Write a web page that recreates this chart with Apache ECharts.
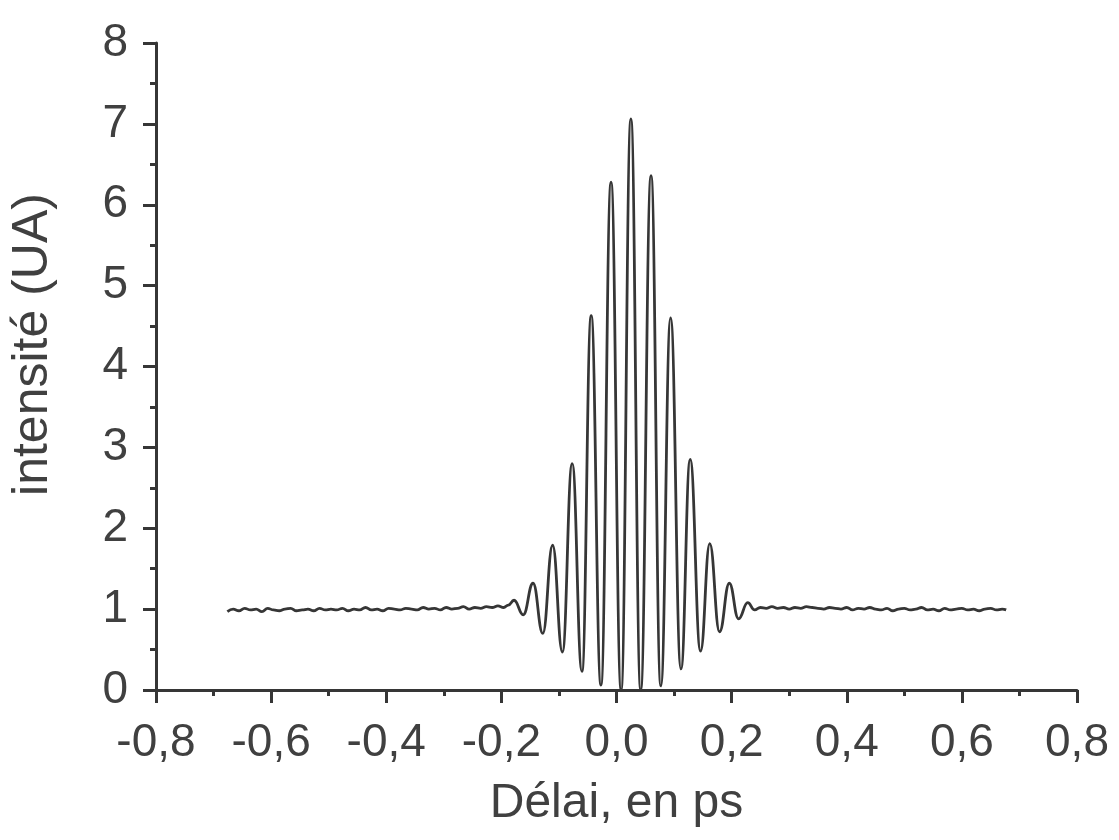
<!DOCTYPE html>
<html>
<head>
<meta charset="utf-8">
<script src="https://cdn.jsdelivr.net/npm/echarts@6/dist/echarts.min.js"></script>
<style>
  html, body { margin: 0; padding: 0; background: #fff; }
  #chart { width: 1119px; height: 840px; }
</style>
</head>
<body>
<div id="chart"></div>
<script>
// ---- Data (delay in ps, intensity in arbitrary units) ----
const delayLeft = [-0.676, -0.666, -0.656, -0.646, -0.636, -0.626, -0.616, -0.606, -0.596, -0.586,
                   -0.576, -0.566, -0.556, -0.546, -0.536, -0.526, -0.516, -0.506, -0.496, -0.486,
                   -0.476, -0.466, -0.456, -0.446, -0.436, -0.426, -0.416, -0.406, -0.396, -0.386,
                   -0.376, -0.366, -0.356, -0.346, -0.336, -0.326, -0.316, -0.306, -0.296, -0.286,
                   -0.276, -0.266, -0.256, -0.246, -0.236, -0.226, -0.216, -0.206, -0.196, -0.188];
const intensityLeft = [0.97, 1.00, 0.98, 1.01, 0.99, 1.00, 0.97, 1.01, 0.99, 0.98,
                       1.00, 1.01, 0.98, 0.99, 1.00, 0.98, 1.01, 0.99, 1.00, 0.99,
                       1.01, 0.98, 1.00, 0.99, 1.02, 0.99, 1.00, 0.98, 1.01, 1.00,
                       0.99, 1.01, 1.00, 0.99, 1.02, 1.00, 1.01, 0.99, 1.02, 1.00,
                       1.01, 1.03, 1.00, 1.02, 1.01, 1.03, 1.02, 1.04, 1.02, 1.05];

const delayFringe = [-0.178, -0.162, -0.145, -0.128, -0.111, -0.094, -0.077, -0.060, -0.044, -0.027,
                     -0.0095, 0.008, 0.025, 0.042, 0.060, 0.077, 0.094, 0.112, 0.128, 0.146,
                     0.162, 0.179, 0.196, 0.212, 0.228];
const intensityFringe = [1.11, 0.93, 1.32, 0.70, 1.79, 0.47, 2.80, 0.23, 4.63, 0.06,
                         6.28, 0.00, 7.06, 0.00, 6.36, 0.05, 4.60, 0.26, 2.85, 0.48,
                         1.81, 0.72, 1.32, 0.88, 1.08];

const delayRight = [0.240, 0.250, 0.260, 0.270, 0.280, 0.290, 0.300, 0.310, 0.320, 0.330,
                    0.340, 0.350, 0.360, 0.370, 0.380, 0.390, 0.400, 0.410, 0.420, 0.430,
                    0.440, 0.450, 0.460, 0.470, 0.480, 0.490, 0.500, 0.510, 0.520, 0.530,
                    0.540, 0.550, 0.560, 0.570, 0.580, 0.590, 0.600, 0.610, 0.620, 0.630,
                    0.640, 0.650, 0.660, 0.670, 0.677];
const intensityRight = [0.99, 1.02, 1.01, 1.03, 1.01, 1.02, 1.00, 1.02, 1.01, 1.03,
                        1.02, 1.01, 1.00, 1.02, 1.01, 1.00, 1.02, 0.99, 1.01, 1.00,
                        1.02, 1.00, 0.99, 1.01, 0.98, 1.00, 1.01, 0.99, 1.00, 1.02,
                        0.99, 1.00, 0.98, 1.01, 0.99, 1.00, 1.01, 0.99, 1.00, 0.98,
                        1.00, 1.01, 0.99, 1.00, 0.99];

// Axis settings
const xMin = -0.8, xMax = 0.8, xStep = 0.2;
const yMin = 0, yMax = 8, yStep = 1;
const xAxisTitle = 'Délai, en ps';
const yAxisTitle = 'intensité (UA)';

// ---- Build series data ----
const points = [];
[[delayLeft, intensityLeft], [delayFringe, intensityFringe], [delayRight, intensityRight]]
  .forEach(([xs, ys]) => xs.forEach((x, i) => points.push([x, ys[i]])));

const ink = '#363636';
const textInk = '#404040';
const font = 'Arial, "Liberation Sans", sans-serif';

const chart = echarts.init(document.getElementById('chart'), null, { renderer: 'canvas' });
chart.setOption({
  backgroundColor: '#ffffff',
  animation: false,
  grid: { left: 153, right: 42, top: 43, bottom: 150, containLabel: false },
  xAxis: {
    type: 'value',
    min: xMin, max: xMax, interval: xStep,
    name: xAxisTitle,
    nameLocation: 'middle',
    nameGap: 90,
    nameTextStyle: { fontFamily: font, fontSize: 48, color: textInk },
    axisLine: { show: true, onZero: false, lineStyle: { color: ink, width: 3 } },
    axisTick: { show: true, inside: false, length: 13, lineStyle: { color: ink, width: 3 } },
    minorTick: { show: true, splitNumber: 2, length: 6, lineStyle: { color: ink, width: 3 } },
    splitLine: { show: false },
    axisLabel: {
      margin: 30,
      fontFamily: font, fontSize: 46, color: textInk,
      formatter: v => (Math.abs(v) < 1e-9 ? 0 : v).toFixed(1).replace('.', ',')
    }
  },
  yAxis: {
    type: 'value',
    min: yMin, max: yMax, interval: yStep,
    name: yAxisTitle,
    nameLocation: 'middle',
    nameGap: 98,
    nameRotate: 90,
    nameTextStyle: { fontFamily: font, fontSize: 50, color: textInk, padding: [0, 0, 0, 44] },
    axisLine: { show: true, onZero: false, lineStyle: { color: ink, width: 3 } },
    axisTick: { show: true, inside: false, length: 13, lineStyle: { color: ink, width: 3 } },
    minorTick: { show: true, splitNumber: 2, length: 6, lineStyle: { color: ink, width: 3 } },
    splitLine: { show: false },
    axisLabel: {
      margin: 28,
      fontFamily: font, fontSize: 46, color: textInk
    }
  },
  series: [{
    type: 'line',
    data: points,
    showSymbol: false,
    smooth: 0.45,
    smoothMonotone: 'x',
    clip: false,
    lineStyle: { color: ink, width: 2.8 }
  }]
});
</script>
</body>
</html>
